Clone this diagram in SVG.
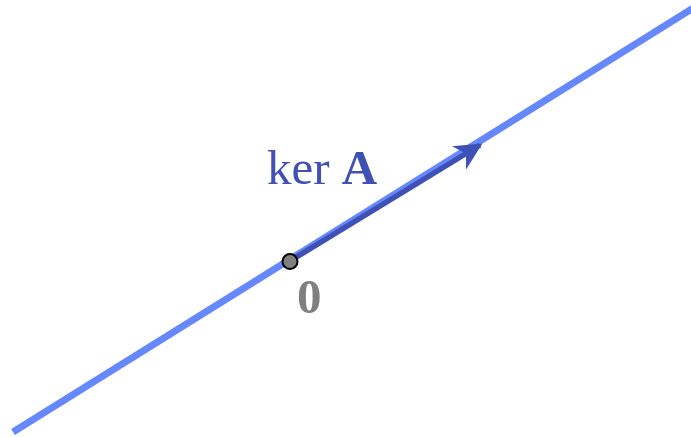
<svg xmlns="http://www.w3.org/2000/svg" width="691" height="437" viewBox="0 0 691 437">
<style>
.line{stroke:#6688ff;stroke-width:7;fill:none}
.vec{stroke:#3f51b5;stroke-width:5.5;fill:none}
.lbl{font-family:"Liberation Serif",serif;fill:#3f51b5}
.zero{font-family:"Liberation Serif",serif;font-weight:bold;fill:#808080}
</style>
<defs>
<marker id="ah" viewBox="0 0 10 10" refX="9" refY="5" markerWidth="5" markerHeight="5" markerUnits="strokeWidth" orient="auto">
<path d="M0,0 L10,5 L0,10 L3,5 Z" fill="#3f51b5"/>
</marker>
</defs>
<g id="connectors">
<line id="kernel-line" class="line" x1="13" y1="432" x2="695" y2="7"/>
<line id="vector" class="vec" x1="290" y1="261" x2="480" y2="145" marker-end="url(#ah)"/>
</g>
<g id="origin">
<circle cx="290" cy="261.5" r="7.5" fill="#808080" stroke="#000" stroke-width="2"/>
<text class="zero" x="297" y="313" font-size="49">0</text>
</g>
<g id="label">
<text class="lbl" x="267" y="184" font-size="49">ker <tspan font-weight="bold">A</tspan></text>
</g>
</svg>
